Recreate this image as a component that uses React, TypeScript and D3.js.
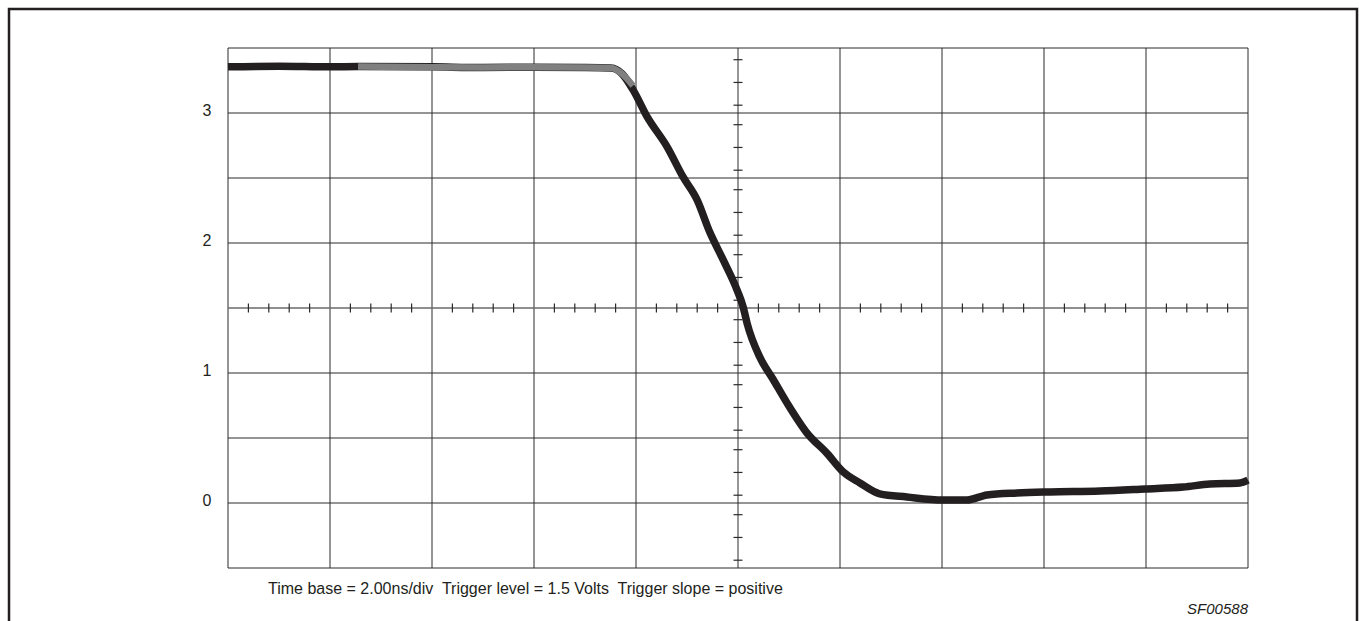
import * as d3 from "d3";

// time in ns (2 ns/div), voltage in V (0.5 V/div)
const traceTime = [
  -10, -9, -8, -7.45, -6, -5, -4, -3, -2.49, -2.27, -2.06, -1.78, -1.39, -1.08, -0.8, -0.55, -0.29, -0.02,
  0.1, 0.18, 0.43, 0.69, 0.96, 1.35, 1.75, 2.06, 2.39, 2.78, 3.31, 4.02, 4.49, 4.88, 5.47, 6.12, 7.1, 7.98,
  8.73, 9.25, 9.84, 10,
];
const traceVolts = [
  3.355, 3.36, 3.355, 3.358, 3.355, 3.35, 3.352, 3.35, 3.346, 3.3, 3.18, 2.97, 2.74, 2.51, 2.33, 2.08, 1.87, 1.64,
  1.51, 1.38, 1.12, 0.95, 0.77, 0.54, 0.38, 0.24, 0.154, 0.07, 0.046, 0.023, 0.023, 0.062, 0.077, 0.085, 0.092,
  0.108, 0.123, 0.146, 0.154, 0.177,
];

// second (gray) trace over the flat top
const grayTime = [-7.45, -6, -5, -4, -3, -2.49, -2.27, -2.06];
const grayVolts = [3.358, 3.352, 3.35, 3.352, 3.35, 3.346, 3.3, 3.21];

const voltLabels = [0, 1, 2, 3];
// vertical-axis tick marks sit at these fractions of each division (from the top)
const vTickFractions = [0.18, 0.53, 0.88];
const caption = "Time base = 2.00ns/div  Trigger level = 1.5 Volts  Trigger slope = positive";
const figId = "SF00588";

const W = 1359;
const H = 621;
const plot = { left: 228, right: 1248, top: 48, bottom: 568 };
const INK = "#231f20";

export default function App() {
  const x = d3.scaleLinear().domain([-10, 10]).range([plot.left, plot.right]);
  const y = d3.scaleLinear().domain([-0.5, 3.5]).range([plot.bottom, plot.top]);

  const majorX = d3.range(-10, 10.001, 2);
  const majorY = d3.range(-0.5, 3.501, 0.5);
  const minorX = d3.range(-10, 10.001, 0.4).filter((t) => Math.abs(Math.round(t / 2) * 2 - t) > 0.01);
  const minorY = d3
    .range(3.5, -0.49, -0.5)
    .flatMap((top) => vTickFractions.map((f) => top - f * 0.5));

  const line = d3
    .line<number>()
    .x((_, i) => x(traceTime[i]))
    .y((v) => y(v))
    .curve(d3.curveMonotoneX);
  const grayLine = d3
    .line<number>()
    .x((_, i) => x(grayTime[i]))
    .y((v) => y(v))
    .curve(d3.curveMonotoneX);

  return (
    <svg
      width={W}
      height={H}
      style={{ position: "fixed", left: 0, top: 0, background: "#fff" }}
      fontFamily="'Liberation Sans', Arial, sans-serif"
    >
      {/* outer frame */}
      <path d={`M9,${H + 5} V9 H1357 V${H + 5}`} fill="none" stroke={INK} strokeWidth={2.5} />

      {/* grid */}
      {majorX.map((t) => (
        <line
          key={"gx" + t}
          x1={x(t)}
          x2={x(t)}
          y1={plot.top}
          y2={plot.bottom}
          stroke={t === 0 ? "#6a6a6a" : "#2a2a2a"}
          strokeWidth={t === 0 ? 1.4 : 1}
        />
      ))}
      {majorY.map((v) => (
        <line
          key={"gy" + v}
          x1={plot.left}
          x2={plot.right}
          y1={y(v)}
          y2={y(v)}
          stroke={Math.abs(v - 1.5) < 0.01 ? "#6a6a6a" : "#2a2a2a"}
          strokeWidth={Math.abs(v - 1.5) < 0.01 ? 1.4 : 1}
        />
      ))}

      {/* tick marks on the center axes */}
      {minorX.map((t) => (
        <line key={"mx" + t} x1={x(t)} x2={x(t)} y1={y(1.5) - 4.5} y2={y(1.5) + 4.5} stroke="#2a2a2a" strokeWidth={1.2} />
      ))}
      {minorY.map((v) => (
        <line key={"my" + v} x1={x(0) - 4.5} x2={x(0) + 4.5} y1={y(v)} y2={y(v)} stroke="#2a2a2a" strokeWidth={1.2} />
      ))}

      {/* traces */}
      <path d={line(traceVolts) ?? ""} fill="none" stroke={INK} strokeWidth={7.5} strokeLinejoin="round" />
      <path d={grayLine(grayVolts) ?? ""} fill="none" stroke="#808080" strokeWidth={6.5} strokeLinejoin="round" />

      {/* volt labels */}
      {voltLabels.map((v) => (
        <text key={"vl" + v} x={207} y={y(v)} dy="0.2em" textAnchor="middle" fontSize={16} fill={INK}>
          {v}
        </text>
      ))}

      <text x={268} y={594} fontSize={16} fill={INK} style={{ whiteSpace: "pre" }}>
        {caption}
      </text>
      <text x={1248} y={614} fontSize={15} fontStyle="italic" textAnchor="end" fill={INK}>
        {figId}
      </text>
    </svg>
  );
}
